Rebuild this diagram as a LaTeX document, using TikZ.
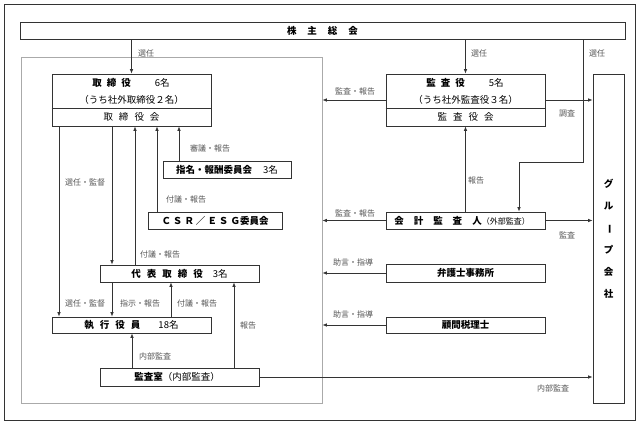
\documentclass[tikz,border=0pt]{standalone}
\usepackage{fontspec}
\setmainfont{Noto Sans CJK JP}
\usetikzlibrary{arrows.meta}
\definecolor{ln}{HTML}{333333}
\definecolor{lbl}{HTML}{555555}
\definecolor{frm}{HTML}{AAAAAA}
\newcommand{\jsp}[1][4pt]{\hspace{#1}}
\tikzset{
  box/.style={draw=ln, line width=0.8pt, inner sep=0pt, fill=white},
  txt/.style={inner sep=0pt, font=\fontsize{9.5}{11}\selectfont, text=black},
  lbl/.style={inner sep=0pt, font=\fontsize{8}{9}\selectfont, text=lbl},
  conn/.style={draw=ln, line width=0.8pt},
  arr/.style={conn, -{Latex[length=4.5pt,width=3.6pt]}},
}
\begin{document}
\begin{tikzpicture}[x=1pt,y=-1pt]
\useasboundingbox (0,0) rectangle (644,424);
% frames
\node[draw=ln, line width=0.8pt, minimum width=631pt, minimum height=416pt, inner sep=0pt] (outer) at (319.5,212) {};
\node[draw=frm, line width=0.6pt, minimum width=301pt, minimum height=346pt, inner sep=0pt] (inner) at (171.5,230) {};
% boxes
\node[box, minimum width=605pt, minimum height=17pt] (sh) at (322.5,30.5) {};
\node[txt] (shT) at (322.5,30.5) {\bfseries 株\jsp[11pt]主\jsp[11pt]総\jsp[11pt]会};
\node[box, minimum width=159pt, minimum height=52pt] (board) at (131.5,100) {};
\node[box, minimum width=159pt, minimum height=52pt] (kansayaku) at (465.5,100) {};
\node[box, minimum width=31pt, minimum height=329pt] (group) at (608.5,238.5) {};
\node[box, minimum width=128pt, minimum height=17pt] (nom) at (227,169.5) {};
\node[box, minimum width=134pt, minimum height=17pt] (csr) at (215,220.5) {};
\node[box, minimum width=159pt, minimum height=17pt] (kaikei) at (465.5,220.5) {};
\node[box, minimum width=159pt, minimum height=17pt] (rep) at (179.5,273.5) {};
\node[box, minimum width=159pt, minimum height=18pt] (bengoshi) at (465.5,273) {};
\node[box, minimum width=159pt, minimum height=16pt] (shikkou) at (131.5,325) {};
\node[box, minimum width=159pt, minimum height=16pt] (komon) at (465.5,325) {};
\node[box, minimum width=159pt, minimum height=18pt] (kansa) at (179.5,377) {};
% dividers
\coordinate (dv) at (0,108);
\draw[conn] (board.west |- dv) -- (board.east |- dv);
\draw[conn] (kansayaku.west |- dv) -- (kansayaku.east |- dv);
% box texts
\node[txt] (bT1) at (131,83) {\bfseries 取\jsp[5pt]締\jsp[5pt]役\jsp[24pt]\mdseries 6名};
\node[txt] (bT2) at (131.5,100) {（うち社外取締役２名）};
\node[txt] (bT3) at (131.5,117) {取\jsp[6pt]締\jsp[6pt]役\jsp[6pt]会};
\node[txt] (kT1) at (465,83) {\bfseries 監\jsp[5pt]査\jsp[5pt]役\jsp[24pt]\mdseries 5名};
\node[txt] (kT2) at (465.5,100) {（うち社外監査役３名）};
\node[txt] (kT3) at (465.5,117) {監\jsp[6pt]査\jsp[6pt]役\jsp[6pt]会};
\node[txt, font=\fontsize{9.5}{22}\selectfont\bfseries, align=center] (gT) at (608.5,238.5) {グ\\ル\\\rotatebox[origin=c]{-90}{ー}\\プ\\会\\社};
\node[txt] (nT) at (227,169.5) {\bfseries 指名・報酬委員会\jsp[11pt]\mdseries 3名};
\node[txt] (cT) at (215,220.5) {\bfseries Ｃ\jsp[2pt]Ｓ\jsp[2pt]Ｒ\jsp[2pt]／\jsp[2pt]Ｅ\jsp[2pt]Ｓ\jsp[2pt]Ｇ委員会};
\node[txt] (kkT) at (462,220.5) {\bfseries 会\jsp[10pt]計\jsp[10pt]監\jsp[10pt]査\jsp[10pt]人\mdseries\fontsize{8}{10}\selectfont（外部監査）};
\node[txt] (rT) at (179.5,273.5) {\bfseries 代\jsp[6pt]表\jsp[6pt]取\jsp[6pt]締\jsp[6pt]役\jsp[10pt]\mdseries 3名};
\node[txt] (bgT) at (465.5,273) {\bfseries 弁護士事務所};
\node[txt] (sT) at (131.5,325) {\bfseries 執\jsp[6pt]行\jsp[6pt]役\jsp[6pt]員\jsp[18pt]\mdseries 18名};
\node[txt] (kmT) at (465.5,325) {\bfseries 顧問税理士};
\node[txt] (ksT) at (177,377) {\bfseries 監査室\mdseries（内部監査）};
% connectors
\draw[arr] (sh.south -| board.north) -- (board.north);
\draw[arr] (sh.south -| kansayaku.north) -- (kansayaku.north);
\coordinate (c1) at (583,162);
\coordinate (c2) at (519,162);
\draw[arr] (sh.south -| c1) -- (c1) -- (c2) -- (kaikei.north -| c2);
\draw[arr] (kansayaku.east) -- (kansayaku.east -| group.west);
\draw[arr] (kansayaku.west) -- (kansayaku.west -| inner.east);
\draw[arr] (kaikei.north) -- (kansayaku.south);
\draw[arr] (kaikei.west) -- (kaikei.west -| inner.east);
\draw[arr] (kaikei.east) -- (kaikei.east -| group.west);
\draw[arr] (bengoshi.west) -- (bengoshi.west -| inner.east);
\draw[arr] (komon.west) -- (komon.west -| inner.east);
\draw[arr] (kansa.east) -- (kansa.east -| group.west);
% left side
\coordinate (x59) at (59,0);
\coordinate (x112) at (112,0);
\coordinate (x135) at (135,0);
\coordinate (x157) at (157,0);
\coordinate (x179) at (179,0);
\coordinate (x171) at (171,0);
\coordinate (x132) at (132,0);
\coordinate (x234) at (234,0);
\draw[arr] (board.south -| x59) -- (shikkou.north -| x59);
\draw[arr] (board.south -| x112) -- (rep.north -| x112);
\draw[arr] (rep.north -| x135) -- (board.south -| x135);
\draw[arr] (csr.north -| x157) -- (board.south -| x157);
\draw[arr] (nom.north -| x179) -- (board.south -| x179);
\draw[arr] (rep.south -| x112) -- (shikkou.north -| x112);
\draw[arr] (shikkou.north -| x171) -- (rep.south -| x171);
\draw[arr] (kansa.north -| x132) -- (shikkou.south -| x132);
\draw[arr] (kansa.north -| x234) -- (rep.south -| x234);
% labels
\node[lbl] (l1) at (146,53) {選任};
\node[lbl] (l2) at (479,53) {選任};
\node[lbl] (l3) at (597,53) {選任};
\node[lbl] (l4) at (355,91) {監査・報告};
\node[lbl] (l5) at (567,113) {調査};
\node[lbl] (l6) at (210,148) {審議・報告};
\node[lbl] (l7) at (85,182) {選任・監督};
\node[lbl] (l8) at (476,180) {報告};
\node[lbl] (l9) at (186,199) {付議・報告};
\node[lbl] (l10) at (355,213) {監査・報告};
\node[lbl] (l11) at (567,235) {監査};
\node[lbl] (l12) at (160,254) {付議・報告};
\node[lbl] (l13) at (353,262) {助言・指導};
\node[lbl] (l14) at (85,303) {選任・監督};
\node[lbl] (l15) at (140,303) {指示・報告};
\node[lbl] (l16) at (197,303) {付議・報告};
\node[lbl] (l17) at (248,325) {報告};
\node[lbl] (l18) at (353,314) {助言・指導};
\node[lbl] (l19) at (155,356) {内部監査};
\node[lbl] (l20) at (553,388) {内部監査};
\end{tikzpicture}
\end{document}
